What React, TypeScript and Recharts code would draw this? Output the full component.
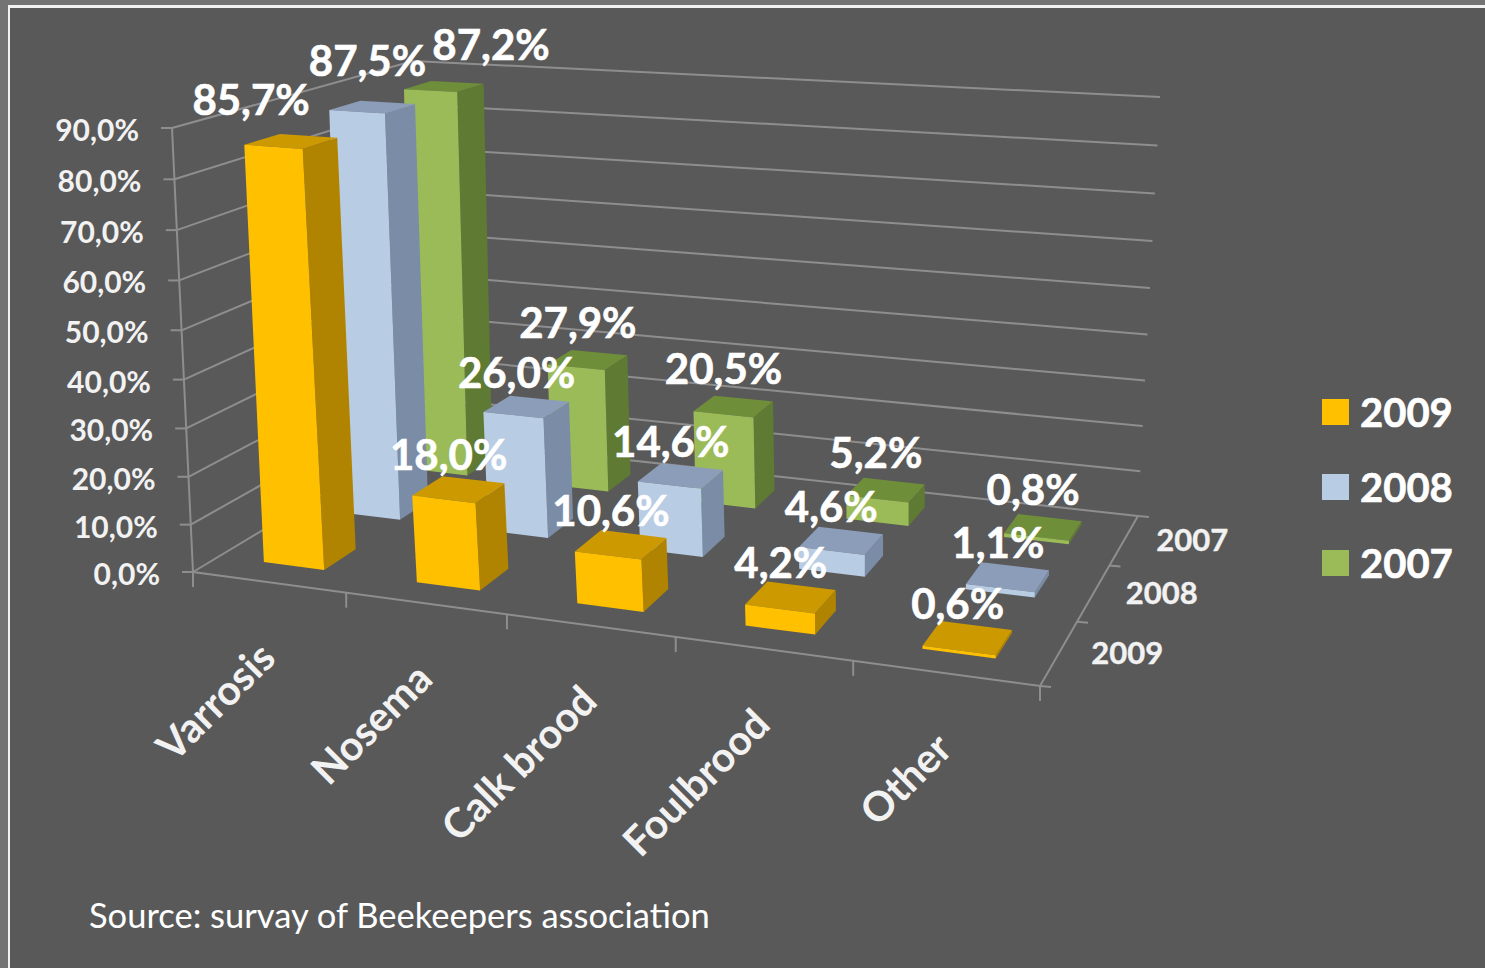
import { BarChart, Bar, XAxis, YAxis, CartesianGrid, LabelList, Legend } from "recharts";

const CATEGORIES = ["Varrosis", "Nosema", "Calk brood", "Foulbrood", "Other"];
const VALUES_2009 = [85.7, 18.0, 10.6, 4.2, 0.6];
const VALUES_2008 = [87.5, 26.0, 14.6, 4.6, 1.1];
const VALUES_2007 = [87.2, 27.9, 20.5, 5.2, 0.8];
const YEARS = ["2009", "2008", "2007"];
const Y_TICKS = [0, 10, 20, 30, 40, 50, 60, 70, 80, 90];

const data = CATEGORIES.map((name, i) => ({
  name,
  y2009: VALUES_2009[i],
  y2008: VALUES_2008[i],
  y2007: VALUES_2007[i],
}));

const W = 1485;
const H = 968;
// flat plot box the library scales into, projected onto the 3D box afterwards
const PLOT = { left: 100, top: 100, width: 1000, height: 600 };
const BAND = PLOT.width / CATEGORIES.length;
const BAR_SIZE = BAND * 0.4;

const FONT = "Lato, 'Open Sans', sans-serif";
const AXIS_COLOR = "#8e8e8e";
const TEXT_COLOR = "#f2f2f2";

const COLORS = {
  y2009: { front: "#ffc000", side: "#b08400", top: "#cc9900" },
  y2008: { front: "#b8cce4", side: "#7a8ca6", top: "#8b9db8" },
  y2007: { front: "#9bbb59", side: "#5f7a32", top: "#6f8e3a" },
};

// label nudges per row: the first category's labels sit further out than the others
const LABEL_SHIFT_FIRST = [
  [-40, -42],
  [-5, -47],
  [47, -42],
];
const LABEL_SHIFT_REST = [
  [-10, -35],
  [-10, -35],
  [-10, -38],
];

type Pt = [number, number];

/** Homography from the unit square to a quad (front-left, front-right, back-right, back-left). */
function quadMap(p0: Pt, p1: Pt, p2: Pt, p3: Pt) {
  const dx1 = p1[0] - p2[0];
  const dx2 = p3[0] - p2[0];
  const sx = p0[0] - p1[0] + p2[0] - p3[0];
  const dy1 = p1[1] - p2[1];
  const dy2 = p3[1] - p2[1];
  const sy = p0[1] - p1[1] + p2[1] - p3[1];
  const den = dx1 * dy2 - dx2 * dy1;
  const g = (sx * dy2 - dx2 * sy) / den;
  const h = (dx1 * sy - sx * dy1) / den;
  const a = p1[0] - p0[0] + g * p1[0];
  const b = p3[0] - p0[0] + h * p3[0];
  const d = p1[1] - p0[1] + g * p1[1];
  const e = p3[1] - p0[1] + h * p3[1];
  return (u: number, v: number): Pt => {
    const w = g * u + h * v + 1;
    return [(a * u + b * v + p0[0]) / w, (d * u + e * v + p0[1]) / w];
  };
}

const floorMap = quadMap([193, 572], [1040, 686], [1138, 516], [418, 437]);
const topMap = quadMap([172, 128], [1063, 191], [1160, 97], [413, 61]);

/** u along categories, d into the depth, v up the value axis (all 0..1). */
function project(u: number, d: number, v: number): Pt {
  const a = floorMap(u, d);
  const b = topMap(u, d);
  // value steps get a little taller towards the top of the box
  const t = v - 0.045 * v * (1 - v);
  return [a[0] + (b[0] - a[0]) * t, a[1] + (b[1] - a[1]) * t];
}

const toU = (x: number) => (x - PLOT.left) / PLOT.width;
const toV = (y: number) => (PLOT.top + PLOT.height - y) / PLOT.height;
const pts = (list: Pt[]) => list.map((p) => `${p[0].toFixed(1)},${p[1].toFixed(1)}`).join(" ");

const rowStart = (row: number) => (row + 0.3) / 3;
const rowEnd = (row: number) => (row + 0.7) / 3;

function barShape(row: number, colors: { front: string; side: string; top: string }) {
  return (props: any) => {
    const { x, y, width } = props;
    const u0 = toU(x);
    const u1 = toU(x + width);
    const v = toV(y);
    const d0 = rowStart(row);
    const d1 = rowEnd(row);
    return (
      <g>
        <polygon
          fill={colors.side}
          points={pts([project(u1, d0, 0), project(u1, d1, 0), project(u1, d1, v), project(u1, d0, v)])}
        />
        <polygon
          fill={colors.top}
          points={pts([project(u0, d0, v), project(u1, d0, v), project(u1, d1, v), project(u0, d1, v)])}
        />
        <polygon
          fill={colors.front}
          points={pts([project(u0, d0, 0), project(u1, d0, 0), project(u1, d0, v), project(u0, d0, v)])}
        />
      </g>
    );
  };
}

function labelContent(row: number) {
  return (props: any) => {
    const { x, y, width, value, index } = props;
    const v = toV(y);
    const [cx, cy] = project(toU(x + width / 2), (rowStart(row) + rowEnd(row)) / 2, v);
    const shift = index === 0 ? LABEL_SHIFT_FIRST[row] : LABEL_SHIFT_REST[row];
    return (
      <text
        x={cx + shift[0]}
        y={cy + shift[1]}
        fill="#ffffff"
        stroke="#ffffff"
        strokeWidth={0.6}
        fontFamily={FONT}
        fontWeight={700}
        fontSize={42}
        textAnchor="middle"
        dominantBaseline="central"
      >
        {value.toFixed(1).replace(".", ",") + "%"}
      </text>
    );
  };
}

function gridLine(props: any) {
  const v = toV(props.y1);
  return (
    <polyline
      key={props.key}
      fill="none"
      stroke={AXIS_COLOR}
      strokeWidth={2}
      points={pts([project(0, 0, v), project(0, 1, v), project(1, 1, v)])}
    />
  );
}

function YTick(props: any) {
  const v = toV(props.y);
  const [px, py] = project(0, 0, v);
  return (
    <g>
      <line x1={px - 11} y1={py} x2={px} y2={py} stroke={AXIS_COLOR} strokeWidth={2} />
      <text
        x={px - 33}
        y={py + 1}
        fill={TEXT_COLOR}
        fontFamily={FONT}
        fontWeight={700}
        fontSize={30}
        textAnchor="end"
        dominantBaseline="central"
      >
        {props.payload.value.toFixed(1).replace(".", ",") + "%"}
      </text>
    </g>
  );
}

function XTick(props: any) {
  const u = toU(props.x);
  const [px, py] = project(u, 0, 0);
  const ax = px + 9;
  const ay = py + 78;
  return (
    <text
      x={ax}
      y={ay}
      fill={TEXT_COLOR}
      fontFamily={FONT}
      fontWeight={700}
      fontSize={41}
      textAnchor="end"
      transform={`rotate(-45 ${ax} ${ay})`}
    >
      {props.payload.value}
    </text>
  );
}

/** Front axis lines and the depth axis, which the library has no axis for. */
function BoxFrame() {
  const corners = [0, 0.2, 0.4, 0.6, 0.8, 1];
  const depths = [0, 1 / 3, 2 / 3, 1];
  return (
    <g stroke={AXIS_COLOR} strokeWidth={2} fill="none">
      <polyline points={pts([project(0, 0, 1), project(0, 0, 0), project(1, 0, 0), project(1, 1, 0)])} />
      {corners.map((u) => {
        const p = project(u, 0, 0);
        return <line key={u} x1={p[0]} y1={p[1]} x2={p[0]} y2={p[1] + 15} />;
      })}
      {depths.map((d) => {
        const p = project(1, d, 0);
        return <line key={d} x1={p[0]} y1={p[1]} x2={p[0] + 11} y2={p[1] + 1} />;
      })}
      {YEARS.map((year, i) => {
        const p = project(1, (i + 0.5) / 3, 0);
        return (
          <text
            key={year}
            x={p[0] + 68}
            y={p[1] - 1}
            stroke="#f2f2f2"
            strokeWidth={0.4}
            fill={TEXT_COLOR}
            fontFamily={FONT}
            fontWeight={700}
            fontSize={31}
            textAnchor="middle"
            dominantBaseline="central"
          >
            {year}
          </text>
        );
      })}
    </g>
  );
}

const LEGEND_ITEMS = [
  { year: "2009", color: COLORS.y2009.front, top: 9 },
  { year: "2008", color: COLORS.y2008.front, top: 84 },
  { year: "2007", color: COLORS.y2007.front, top: 160 },
];

function YearLegend() {
  return (
    <div style={{ position: "relative", width: 140, height: 200 }}>
      {LEGEND_ITEMS.map((item) => (
        <div key={item.year} style={{ position: "absolute", left: 0, top: item.top, display: "flex", alignItems: "center" }}>
          <span style={{ width: 27, height: 26, background: item.color, display: "inline-block", marginRight: 11 }} />
          <span style={{ color: "#ffffff", fontFamily: FONT, fontWeight: 700, fontSize: 40, lineHeight: "26px", WebkitTextStroke: "0.6px #ffffff" }}>{item.year}</span>
        </div>
      ))}
    </div>
  );
}

export default function App() {
  return (
    <div style={{ position: "fixed", left: 0, top: 0, width: W, height: H, background: "#737373", overflow: "hidden" }}>
      <div
        style={{
          position: "absolute",
          left: 8,
          top: 5,
          width: W - 8,
          height: H - 5,
          boxSizing: "border-box",
          background: "#595959",
          borderLeft: "2px solid #f2f2f2",
          borderTop: "3px solid #f2f2f2",
        }}
      />
      <div style={{ position: "absolute", left: 0, top: 0 }}>
        <BarChart
          width={W}
          height={H}
          data={data}
          margin={{ left: PLOT.left - 1, top: PLOT.top, right: W - PLOT.left - PLOT.width, bottom: H - PLOT.top - PLOT.height - 1 }}
          barCategoryGap="30%"
          barSize={BAR_SIZE}
          barGap={-BAR_SIZE}
        >
          <CartesianGrid horizontal={gridLine} vertical={false} />
          <XAxis dataKey="name" height={1} axisLine={false} tickLine={false} tick={XTick} interval={0} />
          <YAxis domain={[0, 90]} ticks={Y_TICKS} width={1} axisLine={false} tickLine={false} tick={YTick} interval={0} />
          <BoxFrame />
          <Legend
            layout="horizontal"
            verticalAlign="middle"
            content={<YearLegend />}
            wrapperStyle={{ position: "absolute", left: 1322, top: 390, width: 140, height: 200 }}
          />
          <Bar dataKey="y2007" fill={COLORS.y2007.front} shape={barShape(2, COLORS.y2007)} isAnimationActive={false}>
            <LabelList dataKey="y2007" content={labelContent(2)} />
          </Bar>
          <Bar dataKey="y2008" fill={COLORS.y2008.front} shape={barShape(1, COLORS.y2008)} isAnimationActive={false}>
            <LabelList dataKey="y2008" content={labelContent(1)} />
          </Bar>
          <Bar dataKey="y2009" fill={COLORS.y2009.front} shape={barShape(0, COLORS.y2009)} isAnimationActive={false}>
            <LabelList dataKey="y2009" content={labelContent(0)} />
          </Bar>
        </BarChart>
      </div>
      <div
        style={{
          position: "absolute",
          left: 89,
          top: 893,
          color: "#ffffff",
          fontFamily: FONT,
          fontSize: 34.5,
          lineHeight: "44px",
          whiteSpace: "nowrap",
        }}
      >
        Source: survay of Beekeepers association
      </div>
    </div>
  );
}
